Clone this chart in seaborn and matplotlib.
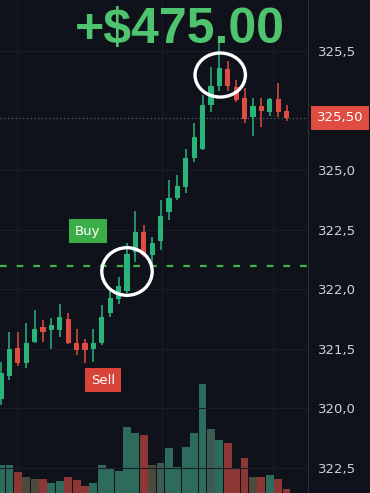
import numpy as np
import pandas as pd
import seaborn as sns
import matplotlib
matplotlib.use("Agg")
import matplotlib.pyplot as plt
from matplotlib.patches import Ellipse

# ---------------- data ----------------
opens  = [323.08, 323.27, 323.51, 323.38, 323.56, 323.68, 323.66, 323.66, 323.75, 323.55,
          323.55, 323.50, 323.55, 323.80, 323.92, 323.99, 324.31, 324.48, 324.29, 324.41,
          324.65, 324.77, 324.86, 325.10, 325.18, 325.55, 325.71, 325.85, 325.70, 325.61,
          325.45, 325.54, 325.49, 325.60, 325.50]
closes = [323.30, 323.50, 323.38, 323.55, 323.67, 323.64, 323.70, 323.77, 323.55, 323.49,
          323.49, 323.55, 323.77, 323.93, 324.03, 324.30, 324.48, 324.29, 324.39, 324.62,
          324.77, 324.87, 325.10, 325.28, 325.55, 325.71, 325.86, 325.71, 325.59, 325.43,
          325.54, 325.50, 325.60, 325.49, 325.44]
highs  = [323.39, 323.64, 323.64, 323.72, 323.83, 323.74, 323.76, 323.88, 323.80, 323.67,
          323.58, 323.67, 323.87, 323.99, 324.10, 324.39, 324.66, 324.54, 324.44, 324.75,
          324.92, 324.96, 325.18, 325.40, 325.63, 325.87, 326.09, 325.92, 325.76, 325.69,
          325.61, 325.61, 325.61, 325.73, 325.55]
lows   = [323.03, 323.24, 323.36, 323.34, 323.55, 323.56, 323.50, 323.60, 323.54, 323.45,
          323.38, 323.39, 323.53, 323.77, 323.88, 323.97, 324.23, 324.27, 324.18, 324.33,
          324.58, 324.75, 324.81, 325.07, 325.17, 325.49, 325.67, 325.67, 325.57, 325.40,
          325.29, 325.36, 325.46, 325.45, 325.41]
volumes = [28, 28, 21, 16, 14, 14, 10, 12, 16, 13,
           7, 10, 28, 24, 22, 66, 60, 58, 28, 30,
           45, 26, 46, 60, 109, 64, 53, 50, 25, 35,
           16, 16, 18, 14, 4]
vol_kind = ["up", "up", "down", "flat", "flat", "down", "up", "up", "down", "down",
            "down", "up", "up", "up", "up", "up", "up", "down", "flat", "grey",
            "up", "up", "up", "up", "up", "grey", "up", "down", "down", "down",
            "flat", "down", "up", "down", "down"]

tick_values = [326.0, 325.0, 324.5, 324.0, 323.5, 323.0, 322.5]
tick_labels = ["325,5", "325,0", "322,5", "322,0", "321,5", "320,0", "322,5"]
last_price = 325.44
last_label = "325,50"
buy_level = 324.20
profit_text = "+$475.00"

# ---------------- style ----------------
BG = "#0f121a"
UP = "#2ab47a"
DOWN = "#e04b42"
VOL_COLORS = {"up": "#2d6b5d", "down": "#8c3636", "flat": "#4b4a3c", "grey": "#3e5b53"}

sns.set_theme(style="dark")
plt.rcParams["font.family"] = ["DejaVu Sans"]

W, H = 370, 493
fig = plt.figure(figsize=(W / 100, H / 100), dpi=100, facecolor=BG)
plot_w = 308 / W

df = pd.DataFrame({"idx": np.arange(len(opens)), "open": opens, "close": closes,
                   "high": highs, "low": lows, "volume": volumes, "kind": vol_kind})

# volume axis (background)
axv = fig.add_axes([0, 0, plot_w, 1])
axv.set_facecolor(BG)
sns.barplot(data=df, x="idx", y="volume", hue="kind", palette=VOL_COLORS,
            dodge=False, native_scale=True, width=0.93, saturation=1,
            legend=False, ax=axv, linewidth=0)
axv.set_ylim(0, 493)
xlim = (-0.12, 36.55)
axv.set_xlim(*xlim)
axv.set_xticks([])
axv.set_yticks([])
axv.set_xlabel("")
axv.set_ylabel("")
for s in axv.spines.values():
    s.set_visible(False)
for gx in [1.9, 19.2, 32.4]:
    axv.axvline(gx, color="#171b24", lw=0.8, zorder=0)

# price axis (foreground)
ax = fig.add_axes([0, 0, plot_w, 1])
ax.patch.set_visible(False)
ax.set_xlim(*xlim)
ax.set_ylim(322.29, 326.43)

for v in tick_values:
    ax.axhline(v, color="#191d26", lw=0.8, zorder=0)

up = df["close"] >= df["open"]
colors = np.where(up, UP, DOWN)
ax.vlines(df["idx"], df["low"], df["high"], colors=colors, lw=1.1, zorder=2)
bottoms = np.minimum(df["open"], df["close"])
heights = np.maximum(np.abs(df["close"] - df["open"]), 0.02)
ax.bar(df["idx"], heights, bottom=bottoms, width=0.62, color=colors, zorder=3, linewidth=0)

# reference lines
ax.axhline(last_price, color="#5a6470", lw=0.9, ls=(0, (1, 2)), zorder=1)
ax.axhline(buy_level, color="#43b04a", lw=1.6, ls=(0, (3, 4.5)), zorder=1)

# circles
ax.add_patch(Ellipse((26.1, 325.80), 6.0, 0.37, fill=False, ec="white", lw=2.4, zorder=5))
ax.add_patch(Ellipse((15.0, 324.15), 6.0, 0.40, fill=False, ec="white", lw=2.4, zorder=5))

# axis styling
ax.set_xticks([])
ax.yaxis.tick_right()
ax.set_yticks(tick_values)
ax.set_yticklabels(tick_labels)
ax.tick_params(axis="y", length=0, pad=7, labelsize=9.5, labelcolor="#cfd2d8")
for name, s in ax.spines.items():
    s.set_visible(name == "right")
ax.spines["right"].set_color("#2a2f3a")
ax.spines["right"].set_linewidth(0.8)
ax.grid(False)

def px(x, y):
    return x / W, 1 - y / H

# big profit text
fig.text(*px(180, 30), profit_text, color="#4fc46e", fontsize=36, fontweight="bold",
         ha="center", va="center", family=["Liberation Sans", "DejaVu Sans"])

# labels
fig.text(*px(88, 231), "Buy", color="white", fontsize=9.5, ha="center", va="center",
         bbox=dict(boxstyle="square,pad=0.45", fc="#3cae47", ec="none"))
fig.text(*px(103.5, 380), "Sell", color="white", fontsize=9.5, ha="center", va="center",
         bbox=dict(boxstyle="square,pad=0.45", fc="#d9433a", ec="none"))
fig.text(*px(340, 118), last_label, color="white", fontsize=9.5, ha="center", va="center",
         bbox=dict(boxstyle="square,pad=0.4", fc="#e04b42", ec="none"))

fig.savefig("out.png", dpi=100, facecolor=BG)
